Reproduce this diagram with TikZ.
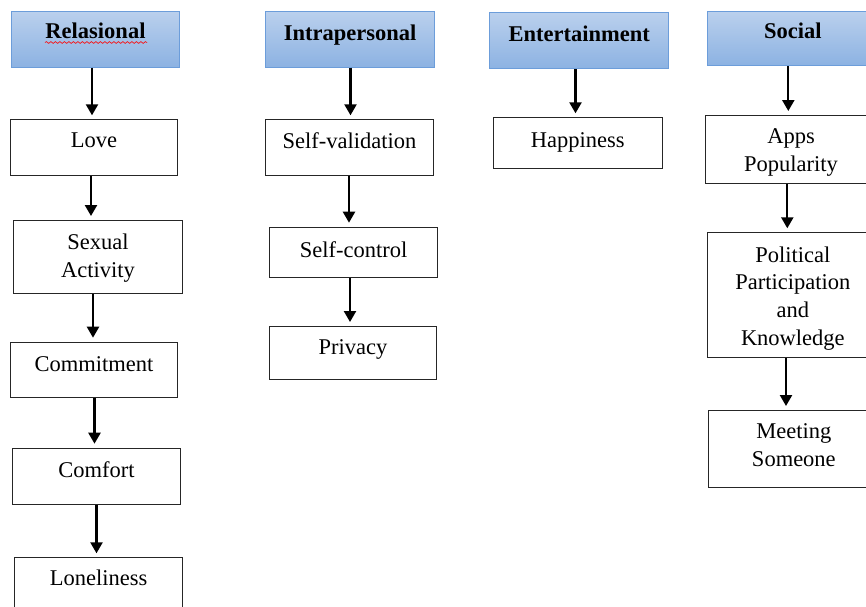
\documentclass[tikz,border=0pt]{standalone}
\usepackage{fontspec}
\setmainfont{Liberation Serif}
\usetikzlibrary{arrows.meta,decorations.pathmorphing}
\definecolor{hdrtop}{RGB}{186,208,237}
\definecolor{hdrbot}{RGB}{140,178,226}
\definecolor{hdrline}{RGB}{108,157,218}
\newcommand{\mlines}[1]{\begin{tabular}[t]{@{}c@{}}#1\end{tabular}}
\tikzset{
  dims/.style n args={3}{text height=#1pt, text depth=#2pt, minimum width=#3pt},
  itembox/.style={draw=black!85, line width=1.1pt, inner sep=0pt, anchor=north west, fill=white,
    font=\fontsize{22.5}{27.6}\selectfont},
  hdrbox/.style={draw=hdrline, line width=1pt, inner sep=0pt, anchor=north west,
    top color=hdrtop, bottom color=hdrbot, font=\fontsize{22.5}{27.6}\selectfont\bfseries},
  arr/.style={line width=2.3pt, -{Triangle[width=12pt,length=11pt]}, shorten >=4pt}
}
\begin{document}
\begin{tikzpicture}[x=1pt,y=1pt]
\useasboundingbox (0,0) rectangle (866,-606);
\fill[white] (0,0) rectangle (866,-606);
\clip (0,0) rectangle (866,-606);
% headers
\node[hdrbox, dims={27.6}{28.4}{168}] (hR) at (11,-10.7) {Relasional};
\node[hdrbox, dims={29}{26.7}{169.3}] (hI) at (265,-11) {Intrapersonal};
\node[hdrbox, dims={28.4}{27.6}{179.3}] (hE) at (489,-12.3) {Entertainment};
\node[hdrbox, dims={26.7}{27.3}{170}] (hS) at (707.3,-11) {Social};
% spell-check mark
\coordinate (sqA) at (45,-42.5);
\coordinate (sqB) at (147,-42.5);
\draw[red, line width=0.6pt, decorate, decoration={snake, amplitude=0.9pt, segment length=4.5pt}] (sqA) -- (sqB);
% Relasional column
\node[itembox, dims={28}{27.7}{166.7}] (love) at (10,-119.3) {Love};
\node[itembox, dims={29}{43.7}{168.4}] (sex) at (13.3,-220) {\mlines{Sexual\\Activity}};
\node[itembox, dims={29}{26.6}{166.7}] (commit) at (10,-341.7) {Commitment};
\node[itembox, dims={29}{27.3}{168.3}] (comfort) at (11.7,-447.7) {Comfort};
\node[itembox, dims={27.7}{28}{168.3}] (lonely) at (14,-557.3) {Loneliness};
% Intrapersonal column
\node[itembox, dims={28.4}{26.8}{167.7}] (selfval) at (265,-119.3) {Self-validation};
\node[itembox, dims={30}{20}{168.3}] (selfctl) at (269,-226.7) {Self-control};
\node[itembox, dims={28.3}{25}{167}] (privacy) at (269,-326) {Privacy};
% Entertainment column
\node[itembox, dims={29.4}{21.6}{169}] (happy) at (492.7,-117.3) {Happiness};
% Social column
\node[itembox, dims={28.3}{39.4}{171}] (apps) at (705,-115) {\mlines{Apps\\Popularity}};
\node[itembox, dims={29.4}{95}{170}] (polit) at (707.3,-232.3) {\mlines{Political\\Participation\\and\\Knowledge}};
\node[itembox, dims={28.3}{48.4}{170}] (meet) at (708.3,-410) {\mlines{Meeting\\Someone}};
% arrows
\draw[arr] (hR.south -| 92,0) -- (love.north -| 92,0);
\draw[arr] (love.south -| 91,0) -- (sex.north -| 91,0);
\draw[arr] (sex.south -| 93,0) -- (commit.north -| 93,0);
\draw[arr] (commit.south -| 94.5,0) -- (comfort.north -| 94.5,0);
\draw[arr] (comfort.south -| 96.5,0) -- (lonely.north -| 96.5,0);
\draw[arr] (hI.south -| 350.5,0) -- (selfval.north -| 350.5,0);
\draw[arr] (selfval.south -| 349,0) -- (selfctl.north -| 349,0);
\draw[arr] (selfctl.south -| 350,0) -- (privacy.north -| 350,0);
\draw[arr] (hE.south -| 575.5,0) -- (happy.north -| 575.5,0);
\draw[arr] (hS.south -| 788.3,0) -- (apps.north -| 788.3,0);
\draw[arr] (apps.south -| 787.3,0) -- (polit.north -| 787.3,0);
\draw[arr] (polit.south -| 786,0) -- (meet.north -| 786,0);
\end{tikzpicture}
\end{document}
